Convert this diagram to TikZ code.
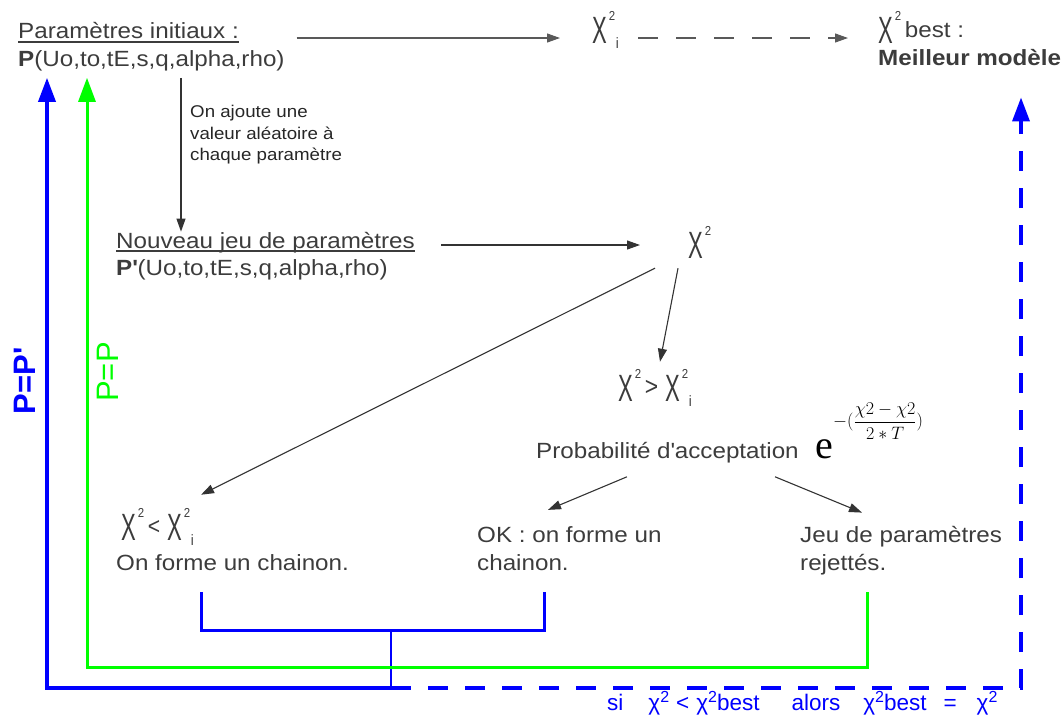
\RequirePackage{fix-cm}
\documentclass[tikz,border=0pt]{standalone}
\usepackage{amsmath}
\usepackage{fontspec}
\usepackage{tikz}
\usetikzlibrary{arrows.meta,positioning}
\setmainfont{Liberation Sans}[FakeStretch=1.1]
\newfontfamily\narrowfont{Liberation Sans}[FakeStretch=0.88]
\newfontfamily\plainfont{Liberation Sans}
\newfontfamily\chifont{Liberation Sans}[FakeStretch=0.58]
\newfontfamily\serifefont{Liberation Serif}
\definecolor{txtgray}{HTML}{3C3C3C}
\definecolor{lblue}{HTML}{0000FF}
\definecolor{lgreen}{HTML}{00FF00}
\newcommand{\bigchi}{{\fontsize{38}{38}\chifont Χ}}
\newcommand{\chisup}{\rlap{\kern2pt\raisebox{23pt}{\fontsize{13}{13}\narrowfont 2}}}
\newcommand{\chisub}[1]{\kern9pt\raisebox{-5pt}{\fontsize{15}{15}\narrowfont #1}}
\newcommand{\sqtwo}{\raisebox{8pt}{\fontsize{16}{16}\plainfont 2}}

\begin{document}
\begin{tikzpicture}[x=1pt,y=-1pt,
  txt/.style={inner sep=0pt,anchor=base west,text=txtgray,font=\fontsize{22}{28}\selectfont},
  chilbl/.style={inner sep=0pt,anchor=base west,text=txtgray},
  note/.style={inner sep=0pt,anchor=north west,align=left,text=black!85,font=\fontsize{17}{21.5}\selectfont},
  arr/.style={draw=black!80,line width=1.1pt,-{Triangle[length=13pt,width=9pt]}},
  uline/.style={draw=txtgray,line width=1.2pt},
  fbblue/.style={draw=lblue,line width=3pt},
  fbgreen/.style={draw=lgreen,line width=3pt},
  fbtip/.style={-{Triangle[length=24pt,width=17pt]}}]
  \useasboundingbox (0,0) rectangle (1064,716);
  \node[txt] (init) at (18,38) {Paramètres initiaux :};
  \node[txt] (initP) at (18,66) {\textbf{P}(Uo,to,tE,s,q,alpha,rho)};
  \node[chilbl] (chii) at (592,43) {\bigchi\chisup\chisub{i}};
  \node[chilbl] (best) at (878,43) {\bigchi\chisup\kern12pt\raisebox{6pt}{\fontsize{22}{28}\selectfont best :}};
  \node[txt] (best2) at (878,65) {\textbf{Meilleur modèle}};
  \node[note] (note) at (190,105) {On ajoute une\\valeur aléatoire à\\chaque paramètre};
  \node[txt] (new) at (116,248) {Nouveau jeu de paramètres\hspace{4pt}};
  \node[txt] (new2) at (116,275) {\textbf{P\textquotesingle}(Uo,to,tE,s,q,alpha,rho)};
  \node[chilbl] (chi2) at (688,258) {\bigchi\chisup};
  \node[chilbl] (gt) at (618,401) {\bigchi\chisup\kern12pt\raisebox{6pt}{\fontsize{26}{26}\narrowfont >}\kern7pt\bigchi\chisup\chisub{i}};
  \node[txt] (prob) at (536,458) {Probabilité d\textquotesingle acceptation};
  \node[inner sep=0pt,anchor=base west,font=\fontsize{40}{40}\serifefont] (ebase) at (815,458) {e};
  \node[inner sep=0pt,anchor=west,font=\fontsize{18}{18}\selectfont] (expo) at (833,421) {$-(\dfrac{\chi 2-\chi 2}{2*T})$};
  \node[chilbl] (lt) at (121,540) {\bigchi\chisup\kern12pt\raisebox{6pt}{\fontsize{24}{24}\narrowfont <}\kern7pt\bigchi\chisup\chisub{i}};
  \node[txt] (lt2) at (116,570) {On forme un chainon.};
  \node[txt] (ok) at (477,542) {OK : on forme un};
  \node[txt] (ok2) at (477,570) {chainon.};
  \node[txt] (rej) at (800,542) {Jeu de paramètres};
  \node[txt] (rej2) at (800,570) {rejettés.};
  \node[rotate=90,inner sep=0pt,text=lblue,font=\fontsize{31}{31}\plainfont\bfseries] (ppb) at (25,381) {P=P\textquotesingle};
  \node[rotate=90,inner sep=0pt,text=lgreen,font=\fontsize{31}{31}\plainfont] (ppg) at (108,372) {P=P};
  \node[inner sep=0pt,anchor=base west,text=lblue,font=\fontsize{22.5}{22.5}\plainfont] (cond) at (607,710)
    {si\hspace{25pt}χ\sqtwo\hspace{7pt}<\hspace{7pt}χ\sqtwo best\hspace{32pt}alors\hspace{23pt}χ\sqtwo best\hspace{17pt}=\hspace{20pt}χ\sqtwo};
  \coordinate (brL) at (201,592); \coordinate (brR) at (544,592);
  \coordinate (brM) at (391,630); \coordinate (jn) at (391,688);
  \coordinate (gnS) at (867,592);
  \draw[uline] ([yshift=-4pt]init.base west) -- ([yshift=-4pt]init.base east);
  \draw[uline] ([yshift=-3pt]new.base west) -- ([yshift=-3pt]new.base east);
  \draw[arr,draw=black!65] ([xshift=12pt]initP.east |- init.base) -- ([xshift=-32pt]chii.west |- init.base);
  \draw[arr,draw=black!65,dash pattern=on 20pt off 18pt] ([xshift=19pt]chii.east |- init.base) -- ([xshift=-30pt]best.west |- init.base);
  \draw[arr] ([xshift=-9pt,yshift=-7pt]note.west |- initP.south) -- ([xshift=-9pt]note.west |- new.north);
  \draw[arr] ([xshift=26pt,yshift=3pt]new.base east) -- ([xshift=-48pt,yshift=3pt]chi2.base west |- new.base);
  \draw[arr] ([xshift=-10pt,yshift=-10pt]chi2.south west) -- ([xshift=42pt,yshift=7pt]gt.north west);
  \draw[arr] ([xshift=-33pt,yshift=-10pt]chi2.south west) -- ([xshift=7pt,yshift=13pt]lt.north east);
  \draw[arr] ([xshift=91pt,yshift=-14pt]prob.south west) -- ([xshift=71pt,yshift=16pt]ok.north west);
  \draw[arr] ([xshift=239pt,yshift=-14pt]prob.south west) -- ([xshift=62pt,yshift=13pt]rej.north west);
  \draw[fbblue] (brL) |- (brM) -| (brR);
  \draw[draw=lblue,line width=2pt] (brM) -- (jn);
  \draw[fbgreen,fbtip] (gnS) -- ++(0,75) -| ([xshift=69pt,yshift=-7pt]initP.south west);
  \draw[fbblue,fbtip,line width=3.5pt] (jn) -| ([xshift=29pt,yshift=-7pt]initP.south west);
  \draw[fbblue,fbtip,line width=3.5pt,dash pattern=on 20pt off 17pt] (jn) -| ([xshift=143pt,yshift=-32pt]best2.south west);
\end{tikzpicture}
\end{document}
